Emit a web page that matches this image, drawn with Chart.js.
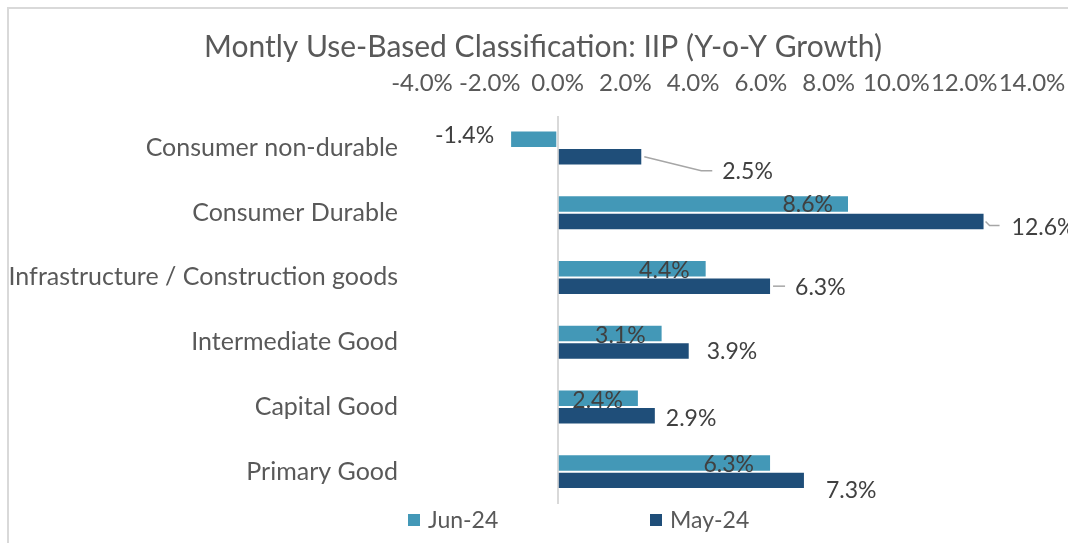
<!DOCTYPE html>
<html>
<head>
<meta charset="utf-8">
<script src="https://cdn.jsdelivr.net/npm/chart.js@4.4.1/dist/chart.umd.min.js"></script>
<style>
  html, body { margin: 0; padding: 0; background: #ffffff; overflow: hidden; }
  #wrap { position: relative; width: 1068px; height: 543px; }
</style>
</head>
<body>
<div id="wrap"><canvas id="c" width="1068" height="543"></canvas></div>
<script>
// ---- Data ----
const categories = [
  'Consumer non-durable',
  'Consumer Durable',
  'Infrastructure / Construction goods',
  'Intermediate Good',
  'Capital Good',
  'Primary Good'
];
const seriesNames = ['Jun-24', 'May-24'];
const jun24 = [-1.4, 8.6, 4.4, 3.1, 2.4, 6.3];
const may24 = [2.5, 12.6, 6.3, 3.9, 2.9, 7.3];
const xTickMin = -4;
const xTickMax = 14;
const xTickStep = 2;
const chartTitle = 'Montly Use-Based Classification: IIP (Y-o-Y Growth)';

// ---- Styles ----
const FONT = 'Lato, "Open Sans", sans-serif';
const colors = ['#4398B7', '#1F4E79'];
const textGrey = '#595959';
const labelGrey = '#404040';

// label placement tweaks (pixels relative to the bar end), per series
const labelOffsets = [
  [ {dx:-16, dy:-4}, {dx:-16, dy:1}, {dx:-17, dy:2}, {dx:-17, dy:2}, {dx:-16, dy:2}, {dx:-17, dy:2} ],
  [ {dx:80, dy:15, leader:[[2,0],[59,14],[70,14]]},
    {dx:27, dy:6, leader:[[1,0],[5,4],[15,4]]},
    {dx:24, dy:1, leader:[[2,0],[14,0]]},
    {dx:17, dy:1},
    {dx:10, dy:3},
    {dx:21, dy:10} ]
];

const decorPlugin = {
  id: 'decor',
  beforeDraw(chart) {
    const ctx = chart.ctx;
    ctx.save();
    ctx.fillStyle = '#ffffff';
    ctx.fillRect(0, 0, chart.width, chart.height);
    ctx.strokeStyle = '#d9d9d9';
    ctx.lineWidth = 2;
    ctx.strokeRect(8, 8, 2000, 2000);
    // title
    ctx.fillStyle = textGrey;
    ctx.font = '30px ' + FONT;
    ctx.textAlign = 'center';
    ctx.textBaseline = 'middle';
    ctx.fillText(chartTitle, 543, 47);
    ctx.restore();
  },
  afterDraw(chart) {
    // legend
    const ctx = chart.ctx;
    ctx.save();
    ctx.font = '23px ' + FONT;
    ctx.textBaseline = 'middle';
    ctx.textAlign = 'left';
    const items = [{x: 408}, {x: 650}];
    chart.data.datasets.forEach((ds, i) => {
      const x = items[i].x;
      ctx.fillStyle = ds.backgroundColor;
      ctx.fillRect(x, 514, 12, 12);
      ctx.fillStyle = textGrey;
      ctx.fillText(ds.label, x + 20, 521);
    });
    ctx.restore();
  }
};

const labelPlugin = {
  id: 'barLabels',
  afterDatasetsDraw(chart) {
    const ctx = chart.ctx;
    ctx.save();
    ctx.font = '23px ' + FONT;
    ctx.textBaseline = 'middle';
    chart.data.datasets.forEach((ds, di) => {
      const meta = chart.getDatasetMeta(di);
      meta.data.forEach((bar, i) => {
        const v = ds.data[i];
        const txt = v.toFixed(1) + '%';
        const off = labelOffsets[di][i];
        if (off.leader) {
          ctx.strokeStyle = '#a6a6a6';
          ctx.lineWidth = 1.5;
          ctx.beginPath();
          off.leader.forEach((p, k) => {
            const px = bar.x + p[0], py = bar.y + p[1];
            if (k === 0) ctx.moveTo(px, py); else ctx.lineTo(px, py);
          });
          ctx.stroke();
        }
        ctx.fillStyle = labelGrey;
        ctx.textAlign = di === 0 ? 'right' : 'left';
        ctx.fillText(txt, bar.x + off.dx, bar.y + off.dy);
      });
    });
    ctx.restore();
  }
};

new Chart(document.getElementById('c'), {
  type: 'bar',
  data: {
    labels: categories,
    datasets: [
      { label: seriesNames[0], data: jun24, backgroundColor: colors[0], borderColor: 'rgba(255,255,255,0.5)', borderWidth: 1 },
      { label: seriesNames[1], data: may24, backgroundColor: colors[1], borderColor: 'rgba(255,255,255,0.5)', borderWidth: 1 }
    ]
  },
  options: {
    indexAxis: 'y',
    responsive: false,
    animation: false,
    devicePixelRatio: 1,
    layout: { padding: { left: 0, right: 36, top: 70, bottom: 39 } },
    datasets: { bar: { categoryPercentage: 0.54, barPercentage: 1.0 } },
    plugins: {
      legend: { display: false },
      title: { display: false },
      tooltip: { enabled: false }
    },
    scales: {
      x: {
        position: 'top',
        min: xTickMin,
        max: xTickMax,
        ticks: {
          stepSize: xTickStep,
          padding: 18,
          autoSkip: false,
          maxRotation: 0,
          minRotation: 0,
          color: textGrey,
          font: { family: FONT, size: 24 },
          callback: (v) => v.toFixed(1) + '%'
        },
        grid: {
          drawTicks: false,
          lineWidth: 2,
          color: (c) => (c.tick && c.tick.value === 0) ? '#d9d9d9' : 'rgba(0,0,0,0)'
        },
        border: { display: false },
        afterFit: (s) => { s.height = 45.6; s.paddingRight = 0; s.paddingLeft = 0; }
      },
      y: {
        ticks: {
          padding: 24,
          color: textGrey,
          font: { family: FONT, size: 25 }
        },
        grid: { display: false, drawTicks: false },
        border: { display: false },
        afterFit: (s) => { s.width = 422; }
      }
    }
  },
  plugins: [decorPlugin, labelPlugin]
});
</script>
</body>
</html>
